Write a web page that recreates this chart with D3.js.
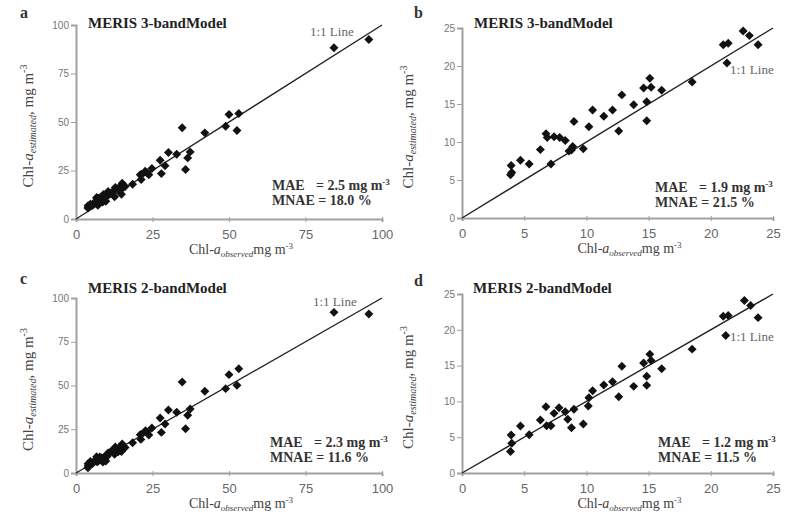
<!DOCTYPE html>
<html>
<head>
<meta charset="utf-8">
<script src="https://cdn.jsdelivr.net/npm/d3@7"></script>
<style>
  body { margin: 0; background: #fff; }
  svg { font-family: "Liberation Serif", "Times New Roman", serif; }
</style>
</head>
<body>
<div id="chart"></div>
<script>
// ---- data ----
// 3-band model, observed < 25 (panel b, also part of panel a)
var threeLowObs = [3.95, 4.0, 3.9, 4.7, 5.4, 6.3, 6.75, 6.85, 7.15, 7.4, 7.85, 8.3, 8.6, 8.8, 8.9, 9.0, 9.75, 10.2, 10.5, 11.4, 12.1, 12.6, 12.85, 13.8, 14.6, 15.1, 15.2, 14.85, 14.85, 16.05, 18.5, 21.0, 21.4, 21.3, 22.6, 23.1, 23.8];
var threeLowEst = [6.9, 6.0, 5.7, 7.6, 7.1, 9.0, 11.1, 10.6, 7.1, 10.7, 10.6, 10.2, 8.8, 8.95, 9.4, 12.7, 9.1, 12.0, 14.2, 13.4, 14.2, 11.45, 16.2, 14.9, 17.1, 18.4, 17.2, 15.3, 12.8, 16.8, 17.9, 22.8, 23.0, 20.4, 24.6, 24.0, 22.8];
// 3-band model, observed > 24 (panel a only)
var threeHighObs = [24.8, 27.5, 27.9, 29.1, 30.2, 32.9, 34.7, 35.8, 36.5, 37.3, 42.1, 48.9, 50.0, 52.6, 53.2, 84.3, 95.7];
var threeHighEst = [26.0, 30.3, 23.4, 27.4, 34.3, 33.4, 47.0, 25.5, 31.5, 34.6, 44.4, 47.8, 53.9, 45.6, 54.4, 88.3, 92.5];

// 2-band model, observed < 25 (panel d, also part of panel c)
var twoLowObs = [3.95, 4.0, 3.9, 4.7, 5.4, 6.3, 6.75, 6.8, 7.15, 7.4, 7.8, 8.3, 8.5, 8.8, 9.0, 9.75, 10.15, 10.2, 10.5, 11.4, 12.1, 12.6, 12.85, 13.8, 14.6, 15.1, 15.2, 14.85, 14.85, 16.05, 18.5, 21.0, 21.4, 21.2, 22.7, 23.2, 23.8];
var twoLowEst = [5.3, 4.15, 3.0, 6.56, 5.35, 7.4, 9.26, 6.6, 6.6, 8.33, 9.12, 8.56, 7.5, 6.33, 8.9, 6.84, 9.36, 10.5, 11.5, 12.3, 12.75, 10.66, 14.9, 12.1, 15.36, 16.6, 15.7, 13.5, 12.24, 14.57, 17.3, 21.9, 22.0, 19.2, 24.1, 23.4, 21.7];
// 2-band model, observed > 24 (panel c only)
var twoHighObs = [24.8, 27.5, 27.9, 29.1, 30.2, 32.9, 34.7, 35.8, 36.5, 37.3, 42.1, 48.9, 50.0, 52.6, 53.2, 84.3, 95.7];
var twoHighEst = [25.7, 31.4, 23.2, 28.0, 36.0, 34.7, 52.0, 25.3, 33.0, 36.6, 46.7, 48.2, 56.2, 50.1, 59.6, 91.8, 90.9];

var fullTicks = [0, 25, 50, 75, 100];
var lowTicks = [0, 5, 10, 15, 20, 25];

var panelLetters = ["a", "b", "c", "d"];
var modelTitles = ["MERIS 3-bandModel", "MERIS 3-bandModel", "MERIS 2-bandModel", "MERIS 2-bandModel"];
var maeValues = ["2.5", "1.9", "2.3", "1.2"];
var mnaeValues = ["18.0", "21.5", "11.6", "11.5"];

function pairs(xs, ys) {
    return xs.map(function (x, i) { return { obs: x, est: ys[i] }; });
}

var panels = [
    { box: { l: 76, r: 382, t: 25, b: 219 }, max: 100, ticks: fullTicks,
      data: pairs(threeLowObs, threeLowEst).concat(pairs(threeHighObs, threeHighEst)),
      letter: [20, 18], title: [88, 28], line: [310, 36], stats: [272, 190], yTitle: 33 },
    { box: { l: 462, r: 773, t: 28, b: 218 }, max: 25, ticks: lowTicks,
      data: pairs(threeLowObs, threeLowEst),
      letter: [414, 18], title: [474, 28], line: [730, 74], stats: [655, 192], yTitle: 413 },
    { box: { l: 76, r: 382, t: 298, b: 473 }, max: 100, ticks: fullTicks,
      data: pairs(twoLowObs, twoLowEst).concat(pairs(twoHighObs, twoHighEst)),
      letter: [20, 284], title: [88, 293], line: [313, 306], stats: [270, 447], yTitle: 33 },
    { box: { l: 462, r: 773, t: 294, b: 473 }, max: 25, ticks: lowTicks,
      data: pairs(twoLowObs, twoLowEst),
      letter: [414, 286], title: [473, 293], line: [730, 341], stats: [658, 447], yTitle: 413 }
];

var svg = d3.select("#chart").append("svg")
    .attr("width", 792)
    .attr("height", 515);

var diamond = d3.symbol().type(d3.symbolSquare).size(40);

panels.forEach(function (p, i) {
    var g = svg.append("g");
    var x = d3.scaleLinear().domain([0, p.max]).range([p.box.l, p.box.r]);
    var y = d3.scaleLinear().domain([0, p.max]).range([p.box.b, p.box.t]);

    // x axis
    var xAxis = g.append("g")
        .attr("transform", "translate(0," + p.box.b + ")")
        .call(d3.axisBottom(x).tickValues(p.ticks).tickSize(3).tickPadding(8));
    xAxis.select(".domain").attr("stroke", "#a0a0a0").attr("stroke-width", 2);
    xAxis.selectAll(".tick line").attr("stroke", "#a0a0a0").attr("y1", -2);
    xAxis.selectAll(".tick text").attr("fill", "#666").attr("font-size", "13px");

    // y axis
    var yAxis = g.append("g")
        .attr("transform", "translate(" + p.box.l + ",0)")
        .call(d3.axisLeft(y).tickValues(p.ticks).tickSize(5).tickPadding(2));
    yAxis.select(".domain").attr("stroke", "#a0a0a0").attr("stroke-width", 2);
    yAxis.selectAll(".tick line").attr("stroke", "#a0a0a0");
    yAxis.selectAll(".tick text").attr("fill", "#777").attr("font-size", "10px");

    // 1:1 line
    g.append("line")
        .attr("x1", x(0)).attr("y1", y(0))
        .attr("x2", x(p.max)).attr("y2", y(p.max))
        .attr("stroke", "#222")
        .attr("stroke-width", 1.4);

    // points
    g.selectAll(".pt")
        .data(p.data)
        .enter().append("path")
        .attr("class", "pt")
        .attr("d", diamond)
        .attr("fill", "#111")
        .attr("transform", function (d) {
            return "translate(" + x(d.obs) + "," + y(d.est) + ") rotate(45)";
        });

    // panel letter
    g.append("text")
        .attr("x", p.letter[0]).attr("y", p.letter[1])
        .attr("font-size", "16px")
        .attr("font-weight", "bold")
        .attr("fill", "#333")
        .text(panelLetters[i]);

    // model title
    g.append("text")
        .attr("x", p.title[0]).attr("y", p.title[1])
        .attr("font-size", "15px")
        .attr("font-weight", "bold")
        .attr("fill", "#222")
        .text(modelTitles[i]);

    // 1:1 line label
    g.append("text")
        .attr("x", p.line[0]).attr("y", p.line[1])
        .attr("font-size", "13px")
        .attr("fill", "#666")
        .text("1:1 Line");

    // statistics
    var st = g.append("g")
        .attr("font-size", "14px")
        .attr("font-weight", "bold")
        .attr("fill", "#333");
    st.append("text").attr("x", p.stats[0]).attr("y", p.stats[1]).text("MAE");
    var mae = st.append("text").attr("x", p.stats[0] + 44).attr("y", p.stats[1]);
    mae.append("tspan").text("= " + maeValues[i] + " mg m");
    mae.append("tspan").attr("font-size", "9px").attr("dy", -5).text("-3");
    st.append("text").attr("x", p.stats[0]).attr("y", p.stats[1] + 15)
        .text("MNAE = " + mnaeValues[i] + " %");

    // x axis title
    var xt = g.append("text")
        .attr("x", (p.box.l + p.box.r) / 2 + 12)
        .attr("y", p.box.b + 35)
        .attr("text-anchor", "middle")
        .attr("font-size", "14px")
        .attr("fill", "#444");
    xt.append("tspan").text("Chl-");
    xt.append("tspan").attr("font-style", "italic").text("a");
    xt.append("tspan").attr("font-style", "italic").attr("font-size", "9px").attr("dy", 3).text("observed");
    xt.append("tspan").attr("dy", -3).text("mg m");
    xt.append("tspan").attr("font-size", "9px").attr("dy", -5).text("-3");

    // y axis title
    var yt = g.append("text")
        .attr("transform", "translate(" + p.yTitle + "," + ((p.box.t + p.box.b) / 2 + 4) + ") rotate(-90)")
        .attr("text-anchor", "middle")
        .attr("font-size", "15px")
        .attr("fill", "#444");
    yt.append("tspan").text("Chl-");
    yt.append("tspan").attr("font-style", "italic").text("a");
    yt.append("tspan").attr("font-style", "italic").attr("font-size", "10px").attr("dy", 3).text("estimated");
    yt.append("tspan").attr("dy", -3).text(", mg m");
    yt.append("tspan").attr("font-size", "10px").attr("dy", -6).text("-3");
});
</script>
</body>
</html>
